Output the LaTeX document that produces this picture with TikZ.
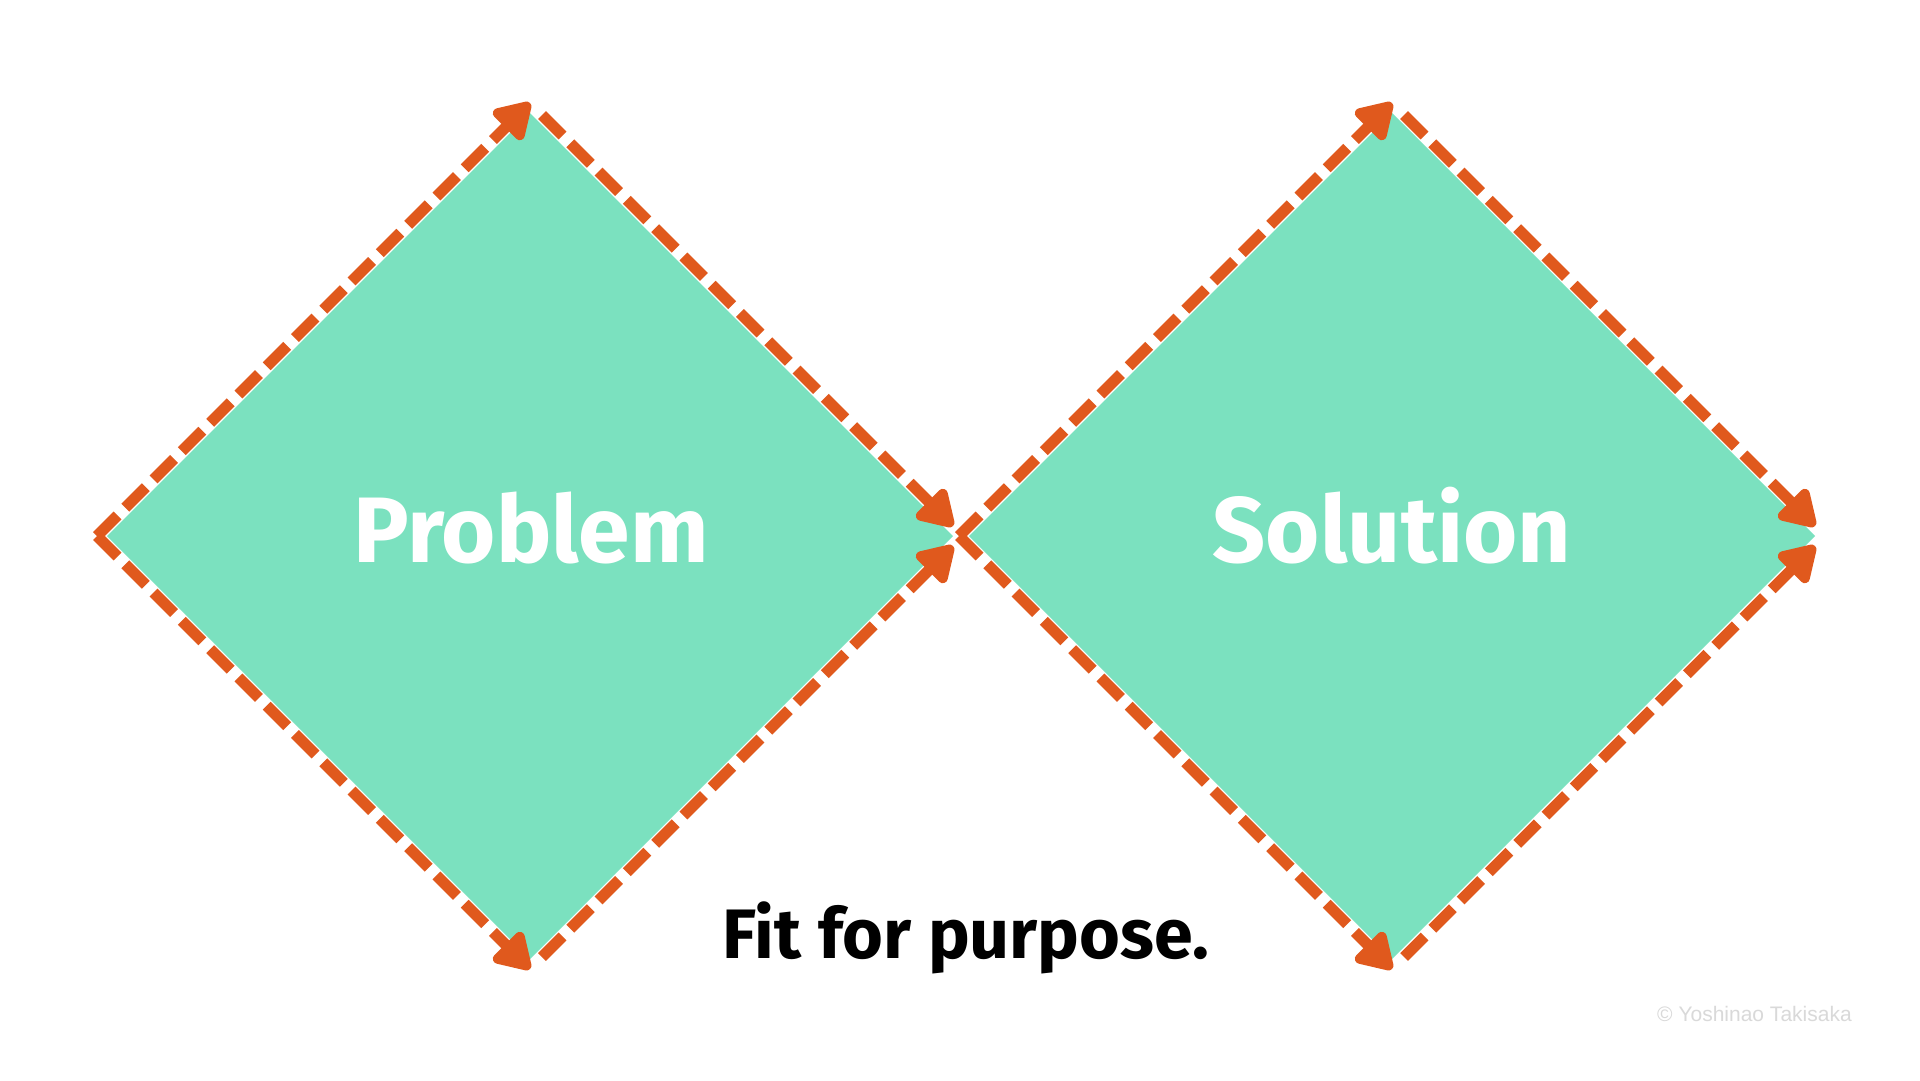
\documentclass[tikz,border=0pt]{standalone}
\usepackage{fontspec}
\setmainfont{Fira Sans}
\newfontfamily\cpyfont{Liberation Sans}
\usetikzlibrary{arrows.meta,calc}
\definecolor{mint}{HTML}{7BE1BF}
\definecolor{orng}{HTML}{E0591D}
\definecolor{cpygray}{HTML}{D9D9D9}
\begin{document}
\begin{tikzpicture}[x=1pt,y=-1pt,
  edgeline/.style={draw=orng, line width=11pt, dash pattern=on 29pt off 11pt,
    -{Triangle[length=40pt,width=46pt,round]}},
  bigtext/.style={font=\bfseries\fontsize{93}{93}\selectfont, text=white, anchor=base, inner sep=0pt},
  captext/.style={font=\bfseries\fontsize{70}{70}\selectfont, text=black, anchor=base, inner sep=0pt},
  cpytext/.style={font=\cpyfont\fontsize{21}{21}\selectfont, text=cpygray, anchor=base west, inner sep=0pt}]
\useasboundingbox (0,0) rectangle (1920,1080);
\fill[white] (0,0) rectangle (1920,1080);
% Problem diamond
\coordinate (pGL) at (107,536);
\coordinate (pGT) at (530,113);
\coordinate (pGR) at (953,536);
\coordinate (pGB) at (530,959);
\coordinate (pLo) at (97,536);
\coordinate (pTo) at (530,103);
\coordinate (pBo) at (530,969);
\coordinate (pTs) at (542,115);
\coordinate (pBs) at (542,957);
\coordinate (pRu) at (953,526);
\coordinate (pRd) at (953,546);
% Solution diamond
\coordinate (sGL) at (969,536);
\coordinate (sGT) at (1392,113);
\coordinate (sGR) at (1815,536);
\coordinate (sGB) at (1392,959);
\coordinate (sLo) at (959,536);
\coordinate (sTo) at (1392,103);
\coordinate (sBo) at (1392,969);
\coordinate (sTs) at (1404,115);
\coordinate (sBs) at (1404,957);
\coordinate (sRu) at (1815,526);
\coordinate (sRd) at (1815,546);
\fill[mint] (pGL) -- (pGT) -- (pGR) -- (pGB) -- cycle;
\fill[mint] (sGL) -- (sGT) -- (sGR) -- (sGB) -- cycle;
\draw[edgeline] (pLo) -- (pTo);
\draw[edgeline] (pLo) -- (pBo);
\draw[edgeline] (pTs) -- (pRu);
\draw[edgeline] (pBs) -- (pRd);
\draw[edgeline] (sLo) -- (sTo);
\draw[edgeline] (sLo) -- (sBo);
\draw[edgeline] (sTs) -- (sRu);
\draw[edgeline] (sBs) -- (sRd);
\node[bigtext] (prob) at (531,562) {Problem};
\node[bigtext] (sol) at (1392,562) {Solution};
\node[captext] (fit) at (966,958) {Fit for purpose.};
\node[cpytext] (cpy) at (1657,1021) {© Yoshinao Takisaka};
\end{tikzpicture}
\end{document}
